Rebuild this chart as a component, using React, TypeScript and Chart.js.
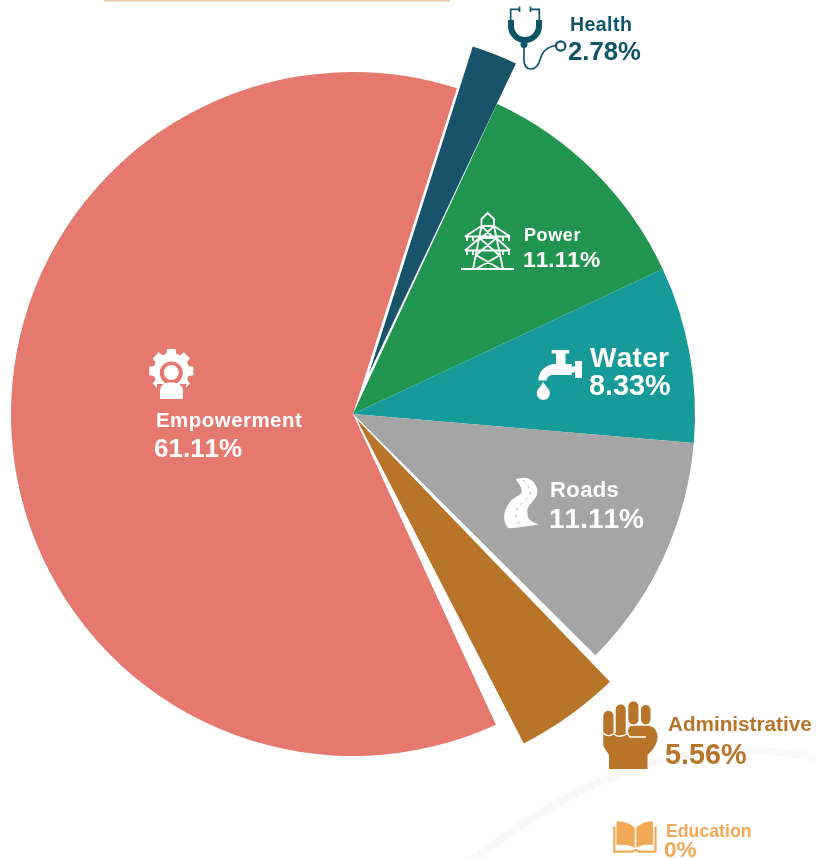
import React, { useEffect, useRef } from "react";
import { Chart, registerables } from "chart.js";

Chart.register(...registerables);

const categories = ["Power", "Water", "Roads", "Administrative", "Education", "Empowerment", "Health"];
const shares = [11.11, 8.33, 11.11, 5.56, 0, 61.11, 2.78];
const shareLabels = ["11.11%", "8.33%", "11.11%", "5.56%", "0%", "61.11%", "2.78%"];
const sliceColors = ["#21954F", "#169A9A", "#A5A5A5", "#B8752A", "#F2A955", "#E5786F", "#18536A"];

// drawing-only details: explode offset, outer radius and angular trim in degrees
const sliceOffset = [0, 0, 0, 25, 0, 0, 176];
const sliceRadius = [342, 342, 342, 360.5, 342, 342, 306];
const trimStart = [0, 0, 0, 1.05, 0, 0.4, 1.75];
const trimEnd = [0, 0, 0, -2.05, 0, 2.8, 1.45];

type Lbl = { nx: number; ny: number; ns: number; nl: number; vx: number; vy: number; vs: number; color: string };
const WHITE = "#FFFFFF";
const labelStyle: Lbl[] = [
  { nx: 524, ny: 241, ns: 18, nl: 0.6, vx: 523, vy: 267, vs: 22.8, color: WHITE },
  { nx: 590, ny: 367, ns: 28, nl: 0.3, vx: 589, vy: 395, vs: 28.8, color: WHITE },
  { nx: 550, ny: 497, ns: 22, nl: 0.4, vx: 549, vy: 528, vs: 28, color: WHITE },
  { nx: 668, ny: 731, ns: 20.7, nl: 0, vx: 665, vy: 764, vs: 28.8, color: "#B8752A" },
  { nx: 666, ny: 837, ns: 17.7, nl: 0, vx: 664, vy: 857, vs: 22.6, color: "#F2A955" },
  { nx: 156, ny: 427, ns: 20.5, nl: 0.45, vx: 154, vy: 457, vs: 26, color: WHITE },
  { nx: 570, ny: 31, ns: 19.5, nl: 0.45, vx: 568, vy: 60, vs: 25.7, color: "#0E5468" },
];

const drawIcons = (ctx: CanvasRenderingContext2D) => {
  const fill = (d: string, c: string) => {
    ctx.fillStyle = c;
    ctx.fill(new Path2D(d));
  };
  const stroke = (d: string, c: string, w: number) => {
    ctx.strokeStyle = c;
    ctx.lineWidth = w;
    ctx.stroke(new Path2D(d));
  };
  ctx.lineCap = "butt";
  ctx.lineJoin = "miter";

  // stethoscope
  const teal = "#0E5468";
  stroke("M519.5 9.3H510.7V23M530.5 9.3H539.3V23M519.5 6.5V12M530.5 6.5V12", teal, 1.7);
  stroke("M511 20V26A14 14 0 0 0 539 26V20", teal, 6);
  fill("M520.5 44.5a3.5 3.5 0 1 0 7 0a3.5 3.5 0 1 0 -7 0Z", teal);
  stroke("M524 46V61.7C524.5 66 527 69 531 69C536 69 538.5 65 540 60C541.5 54 545 47 555.5 45.5", teal, 1.7);
  stroke("M556 46a4.7 4.7 0 1 0 9.4 0a4.7 4.7 0 1 0 -9.4 0Z", teal, 2.2);

  // pylon
  const p = "M487.7 213L481.5 219V226H494V219ZM481.5 226L473 269M494 226L503 269M481.5 226L494 238M494 226L481.5 238M479.5 238H496.5" +
    "M479.5 238L499 255M496.5 238L476 255M476 269L500 255M500 269L476 255" +
    "M465 236.5H510M465 236.5L481.5 226M510 236.5L494 226M465 250.5H510M465 250.5L479.5 238M510 250.5L496.5 238M461 269H514" +
    "M467 236.5V241M473 236.5V241M503 236.5V241M509 236.5V241M467 250.5V255M473 250.5V255M503 250.5V255M509 250.5V255";
  stroke(p, WHITE, 1.8);

  // tap
  fill("M551.7 350H569.3V353.5H565.5V364H571.7V366.5H575V361H582V378H575V372.5H571.7V375H553C549.5 375 547 377 546.7 380.5H538.3C538.5 371 546 364 556 364V353.5H551.7Z", WHITE);
  fill("M543.3 381.7C545 386 550 389 549.8 393.3A6.5 6.5 0 0 1 536.8 393.3C536.6 389 541.6 386 543.3 381.7Z", WHITE);

  // road
  fill("M515.7 479.3C520 478 525 477 528.3 478.3C534 481 538 487 537.3 493.3C536 501 527 504 527.3 511.7C527.5 516 528 518 530 520C532 522 536 523.5 539 524.3C530 526 518 528 508.3 528.3C505 524 503.5 520 504.3 515C505.5 508 508 504 511.7 500C516 496 521 495 521.7 491.7C522 487 518 483 515.7 479.3Z", WHITE);
  ctx.setLineDash([3, 4]);
  stroke("M523 480C528 485 532 490 529 496C525 502 518 504 516 511C515 517 517 522 521 526", "#A5A5A5", 0.8);
  ctx.setLineDash([]);

  // fist
  const brown = "#B8752A";
  ctx.fillStyle = brown;
  ([[603.3, 711, 10.2, 26], [615.7, 704.5, 10, 32], [628.3, 701.5, 10.2, 23], [641, 705, 9.5, 19.5]] as number[][]).forEach(([x, y, w, h]) => {
    ctx.beginPath();
    ctx.roundRect(x, y, w, h, 4.8);
    ctx.fill();
  });
  fill("M603.3 733H628V725.8H648C654 725.8 657.5 731 657.5 737C657.5 744 653 750 647.5 755V769H609V755L603.3 746Z", brown);
  stroke("M603 733Q608.5 738 613.8 733.5Q616 737 621 736Q625 735.5 628.5 733", WHITE, 1.3);
  stroke("M633 724.8C627 725 625.5 733 630 737H646", WHITE, 1.3);

  // book
  const orange = "#F2A955";
  fill("M616.5 821.5C624 821 631 823.5 634.8 828V848C630 845 624 844.5 616.5 845Z", orange);
  fill("M636.2 828C640 823.5 646 821 653 821.5V845C646 844.5 640 845 636.2 848Z", orange);
  stroke("M614.3 826.7V851.7H632.5L635.5 849.7L638.5 851.7H655.5V826.7", orange, 2.2);

  // gear with person
  const cx = 171.3;
  const cy = 371;
  ctx.fillStyle = WHITE;
  ctx.beginPath();
  for (let i = 0; i < 8; i++) {
    const a = (i * Math.PI) / 4 - Math.PI / 2;
    const pts: [number, number][] = [[-0.28, 18], [-0.19, 22.5], [0.19, 22.5], [0.28, 18]];
    pts.forEach(([da, r]) => ctx.lineTo(cx + r * Math.cos(a + da), cy + r * Math.sin(a + da)));
  }
  ctx.closePath();
  ctx.fill();
  const salmon = "#E5786F";
  ctx.fillStyle = salmon;
  ctx.fillRect(157, 384, 29, 17);
  ctx.beginPath();
  ctx.arc(171.3, 373, 11.5, 0, Math.PI * 2);
  ctx.fill();
  ctx.fillStyle = WHITE;
  ctx.beginPath();
  ctx.arc(171.3, 372.5, 7.5, 0, Math.PI * 2);
  ctx.fill();
  fill("M160 399V391C160 385 165 382.5 171.3 382.5C178 382.5 183 385 183 391V399Z", WHITE);
};

const slicePlugin = {
  id: "sliceShape",
  afterDatasetsUpdate(chart: Chart) {
    const arcs = chart.getDatasetMeta(0).data as any[];
    const rad = Math.PI / 180;
    arcs.forEach((arc, i) => {
      arc.outerRadius = sliceRadius[i];
      arc.startAngle += trimStart[i] * rad;
      arc.endAngle += trimEnd[i] * rad;
      arc.circumference = arc.endAngle - arc.startAngle;
    });
  },
};

const decorPlugin = {
  id: "decor",
  beforeDraw(chart: Chart) {
    const ctx = chart.ctx;
    ctx.save();
    ctx.fillStyle = "#E8C79A";
    ctx.fillRect(104, 0, 346, 1.5);
    ctx.strokeStyle = "#F9F9F9";
    ctx.lineWidth = 8;
    ctx.stroke(new Path2D("M465 866C530 815 600 772 680 756C730 748 780 750 820 758"));
    ctx.restore();
  },
  afterDraw(chart: Chart) {
    const ctx = chart.ctx as any;
    ctx.save();
    drawIcons(ctx);
    ctx.textBaseline = "alphabetic";
    ctx.textAlign = "left";
    ctx.fontKerning = "none";
    categories.forEach((name, i) => {
      const s = labelStyle[i];
      ctx.fillStyle = s.color;
      ctx.font = `bold ${s.ns}px "Liberation Sans"`;
      ctx.letterSpacing = `${s.nl}px`;
      ctx.fillText(name, s.nx, s.ny);
      ctx.font = `bold ${s.vs}px "Liberation Sans"`;
      ctx.letterSpacing = "0px";
      ctx.fillText(shareLabels[i], s.vx, s.vy);
    });
    ctx.restore();
  },
};

export default function App() {
  const ref = useRef<HTMLCanvasElement>(null);
  useEffect(() => {
    document.body.style.margin = "0";
    document.body.style.background = "#FFFFFF";
    const chart = new Chart(ref.current!, {
      type: "pie",
      data: {
        labels: categories,
        datasets: [{ data: shares, backgroundColor: sliceColors, offset: sliceOffset, borderWidth: 0, hoverOffset: 0 }],
      },
      options: {
        animation: false,
        responsive: false,
        rotation: 24.9,
        radius: 342,
        layout: { padding: { left: 0, right: 110, top: 0, bottom: 31 } },
        plugins: { legend: { display: false }, tooltip: { enabled: false } },
      },
      plugins: [slicePlugin, decorPlugin],
    } as any);
    return () => chart.destroy();
  }, []);
  return <canvas ref={ref} width={816} height={859} style={{ display: "block", width: 816, height: 859 }} />;
}
